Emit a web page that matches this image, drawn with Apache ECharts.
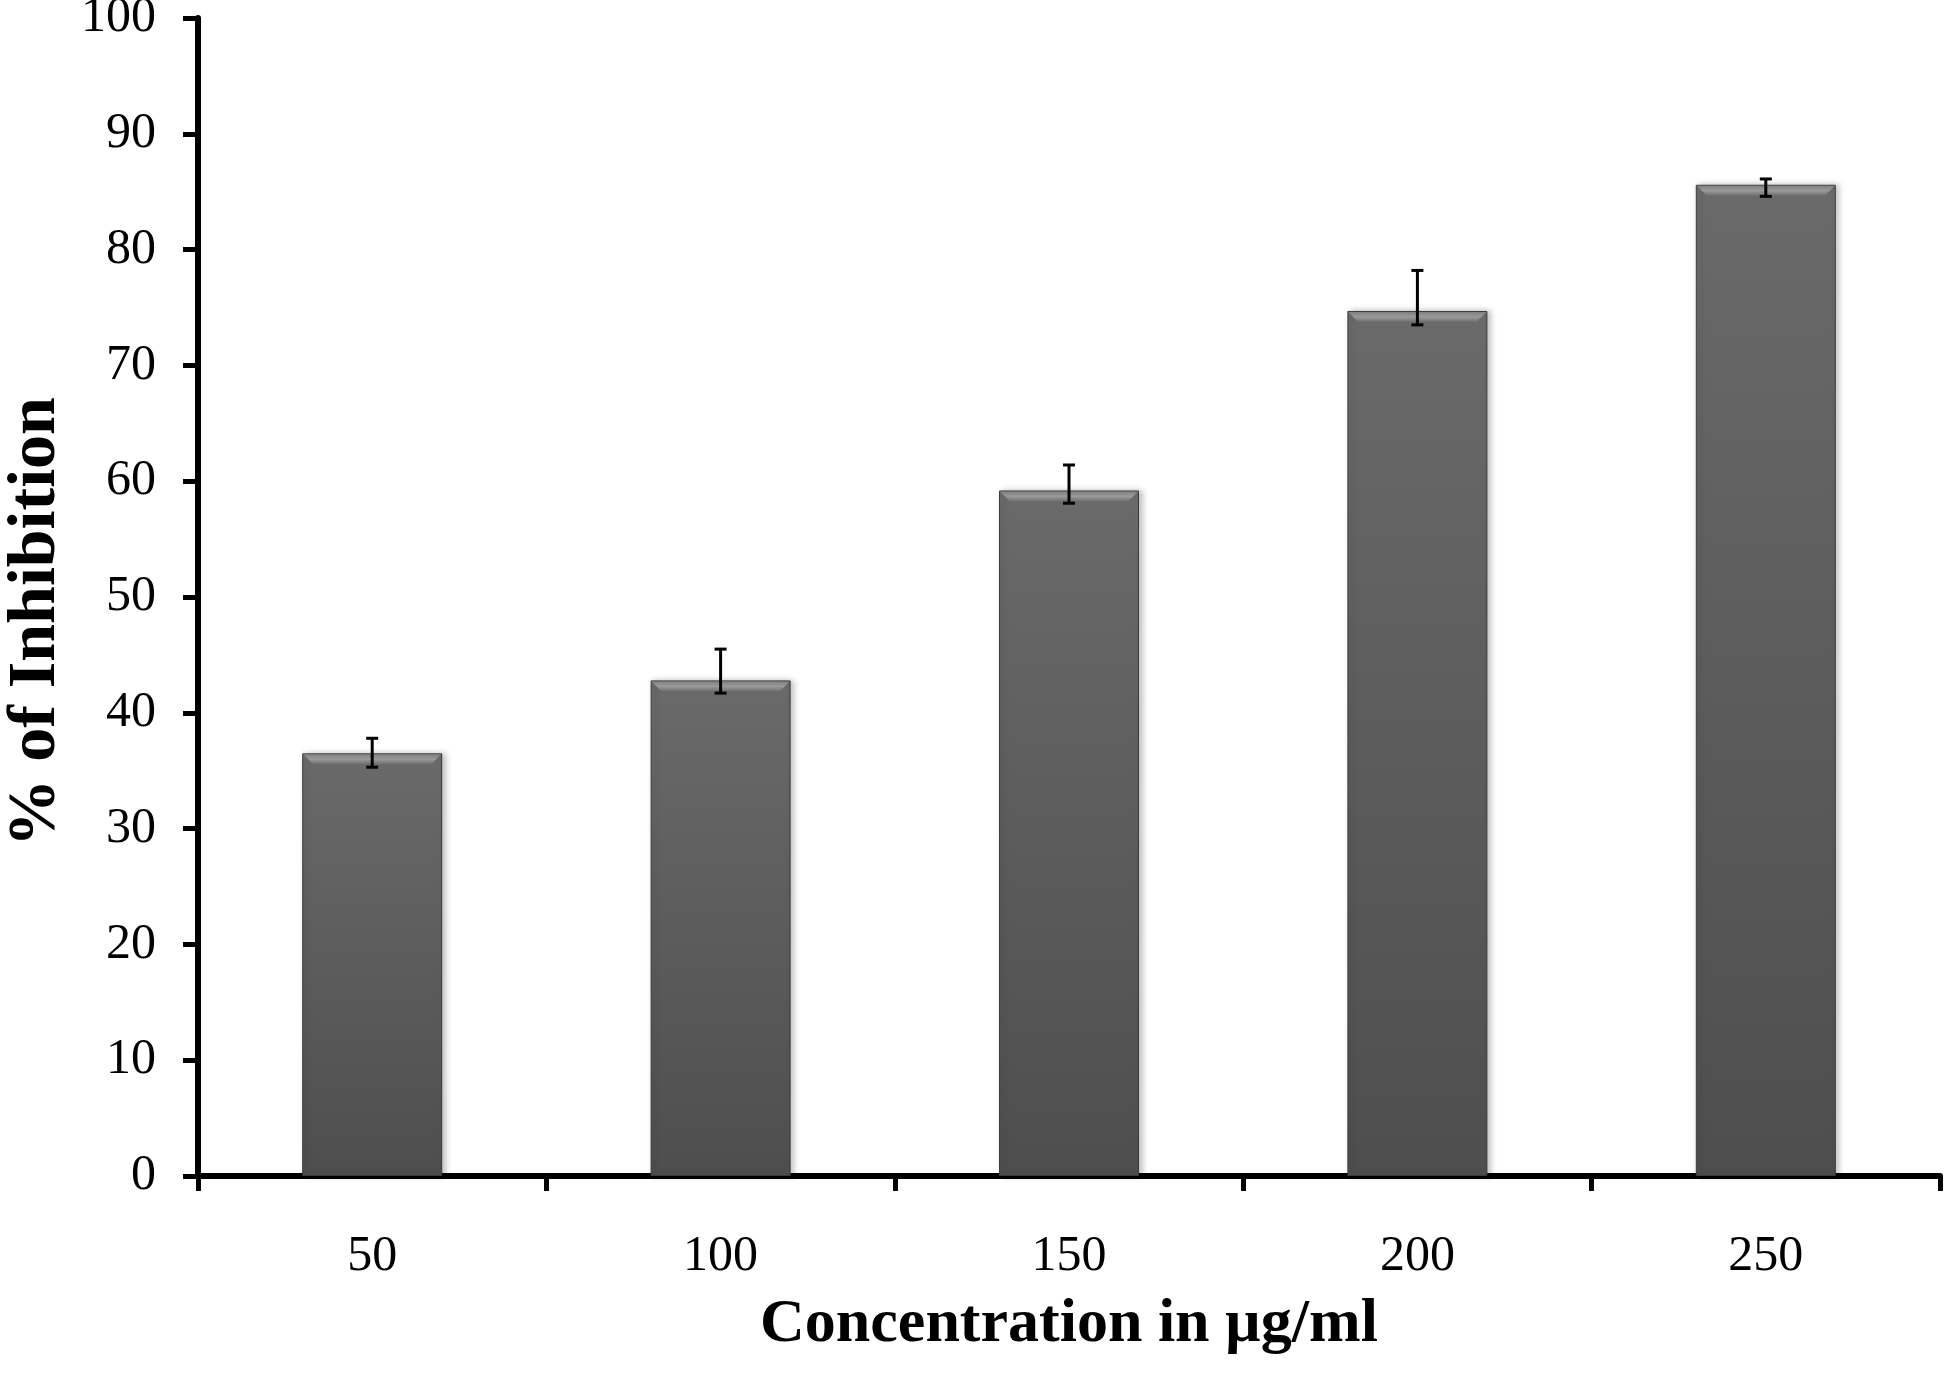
<!DOCTYPE html>
<html>
<head>
    <meta charset="UTF-8">
    <title>% of Inhibition</title>
    <script src="https://cdn.jsdelivr.net/npm/echarts@6.0.0/dist/echarts.min.js"></script>
    <style>
        html, body { margin: 0; padding: 0; background: #fff; }
        #chart { width: 1946px; height: 1373px; }
    </style>
</head>
<body>
    <div id="chart"></div>
    <script>
        // data
        var concentrations = ['50', '100', '150', '200', '250'];
        var inhibition = [36.5, 42.8, 59.2, 74.7, 85.6];
        var errHigh = [37.8, 45.5, 61.4, 78.2, 86.1];
        var errLow = [35.3, 41.7, 58.1, 73.5, 84.6];

        var font = '"Liberation Serif", "Times New Roman", serif';
        var chart = echarts.init(document.getElementById('chart'));

        var errData = [];
        for (var i = 0; i < concentrations.length; i++) {
            errData.push([i, inhibition[i], errLow[i], errHigh[i]]);
        }

        var option = {
            backgroundColor: '#fff',
            animation: false,
            grid: { left: 198, right: 6, top: 18, bottom: 197, outerBoundsMode: 'none', containLabel: false },
            xAxis: {
                type: 'category',
                data: concentrations,
                name: 'Concentration in µg/ml',
                nameLocation: 'middle',
                nameGap: 118,
                nameTextStyle: { fontFamily: font, fontSize: 62, fontWeight: 'bold', color: '#000',
                    verticalAlign: 'top' },
                axisLine: { lineStyle: { color: '#000', width: 6 } },
                axisTick: { show: true, length: 15, lineStyle: { color: '#000', width: 5 } },
                axisLabel: { fontFamily: font, fontSize: 50, color: '#000', margin: 56 }
            },
            yAxis: {
                type: 'value',
                min: 0,
                max: 100,
                interval: 10,
                name: '% of Inhibition',
                nameLocation: 'middle',
                nameGap: 128,
                nameTextStyle: { fontFamily: font, fontSize: 68, fontWeight: 'bold', color: '#000',
                    padding: [0, 50, 0, 0] },
                axisLine: { show: true, lineStyle: { color: '#000', width: 6 } },
                axisTick: { show: true, length: 15, lineStyle: { color: '#000', width: 5 } },
                splitLine: { show: false },
                axisLabel: { fontFamily: font, fontSize: 50, color: '#000', margin: 42 }
            },
            series: [
                {
                    type: 'bar',
                    data: inhibition,
                    barWidth: 140,
                    itemStyle: {
                        color: {
                            type: 'linear', x: 0, y: 0, x2: 0, y2: 1,
                            colorStops: [
                                { offset: 0, color: '#6a6a6a' },
                                { offset: 1, color: '#4e4e4e' }
                            ]
                        },
                        borderColor: '#3c3c3c',
                        borderWidth: 1,
                        shadowColor: 'rgba(0,0,0,0.25)',
                        shadowBlur: 6,
                        shadowOffsetX: 3,
                        shadowOffsetY: 0
                    }
                },
                {
                    type: 'custom',
                    data: errData,
                    z: 10,
                    renderItem: function (params, api) {
                        var top = api.coord([api.value(0), api.value(1)]);
                        var lo = api.coord([api.value(0), api.value(2)]);
                        var hi = api.coord([api.value(0), api.value(3)]);
                        var half = 70;
                        var bevel = 11;
                        var cap = 6;
                        return {
                            type: 'group',
                            children: [
                                {
                                    type: 'polygon',
                                    shape: { points: [
                                        [top[0] - half + 1, top[1] + 1], [top[0] + half - 1, top[1] + 1],
                                        [top[0] + half - bevel, top[1] + bevel], [top[0] - half + bevel, top[1] + bevel]
                                    ] },
                                    style: {
                                        fill: {
                                            type: 'linear', x: 0, y: 0, x2: 0, y2: 1,
                                            colorStops: [
                                                { offset: 0, color: '#808080' },
                                                { offset: 0.5, color: '#9a9a9a' },
                                                { offset: 1, color: '#6e6e6e' }
                                            ]
                                        }
                                    }
                                },
                                {
                                    type: 'line',
                                    shape: { x1: hi[0], y1: hi[1], x2: lo[0], y2: lo[1] },
                                    style: { stroke: '#000', lineWidth: 3 }
                                },
                                {
                                    type: 'line',
                                    shape: { x1: hi[0] - cap, y1: hi[1], x2: hi[0] + cap, y2: hi[1] },
                                    style: { stroke: '#000', lineWidth: 3 }
                                },
                                {
                                    type: 'line',
                                    shape: { x1: lo[0] - cap, y1: lo[1], x2: lo[0] + cap, y2: lo[1] },
                                    style: { stroke: '#000', lineWidth: 3 }
                                }
                            ]
                        };
                    }
                }
            ]
        };
        chart.setOption(option);
    </script>
</body>
</html>
